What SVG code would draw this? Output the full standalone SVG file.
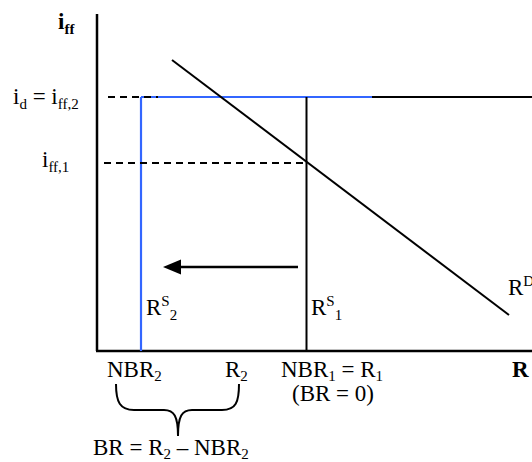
<svg xmlns="http://www.w3.org/2000/svg" width="532" height="462" viewBox="0 0 532 462">
<defs>
<style>
text{font-family:"Liberation Serif","Times New Roman",serif;font-size:23px;fill:#000}
.b{font-weight:bold}
.s{font-size:15px}
.ax{stroke:#000;stroke-width:2.5;fill:none}
.k{stroke:#000;stroke-width:2;fill:none}
.bl{stroke:#3366ff;stroke-width:2.2;fill:none}
.d{stroke:#000;stroke-width:2;stroke-dasharray:7,5;fill:none}
</style>
</defs>
<g id="axes">
<line class="ax" x1="97" y1="14" x2="97" y2="351"/>
<line class="ax" x1="96" y1="351" x2="532" y2="351"/>
</g>
<g id="connectors">
<line class="bl" x1="141" y1="97" x2="372" y2="97"/>
<line class="k" x1="372" y1="97" x2="532" y2="97"/>
<line class="bl" x1="141" y1="97" x2="141" y2="351"/>
<line class="d" x1="108" y1="97" x2="158" y2="97"/>
<line class="d" x1="104" y1="163" x2="306" y2="163"/>
<line class="k" x1="306.5" y1="97" x2="306.5" y2="351"/>
<line class="k" x1="172" y1="60" x2="509" y2="315"/>
<line x1="298" y1="267" x2="176" y2="267" stroke="#000" stroke-width="2.5"/>
<polygon points="163,267 181,259.5 181,274.5" fill="#000"/>
<path class="k" d="M116,384 C116,402 120,410 134,410 L164,410 C174,410 178,416 178,436 M178,436 C178,416 182,410 192,410 L222,410 C236,410 239,402 239,384"/>
</g>
<g id="labels">
<text class="b" x="58" y="29">i<tspan class="s" dy="5">ff</tspan></text>
<text x="13" y="104">i<tspan class="s" dy="5">d</tspan><tspan dy="-5"> = i</tspan><tspan class="s" dy="5">ff,2</tspan></text>
<text x="42" y="167">i<tspan class="s" dy="5">ff,1</tspan></text>
<text x="146" y="315">R<tspan class="s" dy="-9">S</tspan><tspan class="s" dy="14">2</tspan></text>
<text x="311" y="315">R<tspan class="s" dy="-9">S</tspan><tspan class="s" dy="14">1</tspan></text>
<text x="508" y="295">R<tspan class="s" dy="-9">D</tspan></text>
<text x="107" y="377">NBR<tspan class="s" dy="4">2</tspan></text>
<text x="225" y="377">R<tspan class="s" dy="4">2</tspan></text>
<text x="281" y="377">NBR<tspan class="s" dy="4">1</tspan><tspan dy="-4"> = R</tspan><tspan class="s" dy="4">1</tspan></text>
<text x="292" y="401">(BR = 0)</text>
<text class="b" x="512" y="377">R</text>
<text x="93" y="455">BR = R<tspan class="s" dy="4">2</tspan><tspan dy="-4"> – NBR</tspan><tspan class="s" dy="4">2</tspan></text>
</g>
</svg>
